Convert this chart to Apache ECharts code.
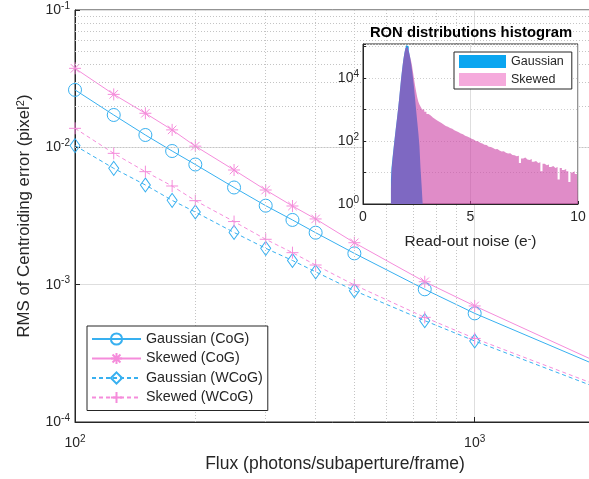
<!DOCTYPE html>
<html>
<head>
<meta charset="utf-8">
<script src="https://cdn.jsdelivr.net/npm/echarts@6/dist/echarts.min.js"></script>
<style>html,body{margin:0;padding:0;background:#fff}#c{width:589px;height:479px}</style>
</head>
<body>
<div id="c"></div>
<script>
// ---- main chart data ----
const flux = [100, 125, 150, 175, 200, 250, 300, 350, 400, 500, 750, 1000, 2000];
const markedPoints = 12; // points that carry a marker (the last one is line only)
const gaussCoG  = [0.0262, 0.0172, 0.0123, 0.0094, 0.0075, 0.0051, 0.00376, 0.00296, 0.00239, 0.00169, 0.000925, 0.000618, 0.000262];
const skewCoG   = [0.0376, 0.0243, 0.0177, 0.0134, 0.0102, 0.00684, 0.00489, 0.00374, 0.00301, 0.00202, 0.00105, 0.0007, 0.000278];
const gaussWCoG = [0.0103, 0.00703, 0.00532, 0.00411, 0.00338, 0.0024, 0.00184, 0.0015, 0.00124, 0.000904, 0.000547, 0.000389, 0.00018];
const skewWCoG  = [0.01375, 0.00904, 0.00665, 0.00523, 0.00409, 0.00288, 0.00214, 0.00171, 0.00139, 0.000995, 0.000578, 0.000406, 0.000188];
const seriesNames = ['Gaussian (CoG)', 'Skewed (CoG)', 'Gaussian (WCoG)', 'Skewed (WCoG)'];

// ---- inset histogram data: [read-out noise (e-), count] ----
const gaussHist = [[1.30,6],[1.35,14],[1.40,30],[1.45,62],[1.50,125],[1.55,250],[1.60,480],[1.65,950],[1.70,2000],[1.75,4500],[1.80,10000],[1.85,20000],[1.90,38000],[1.95,62000],[2.00,90000],[2.05,112000],[2.10,98000],[2.15,76000],[2.20,52000],[2.25,33000],[2.30,19000],[2.35,10000],[2.40,4800],[2.45,2100],[2.50,900],[2.55,400],[2.60,180],[2.65,70],[2.70,14],[2.75,4],[2.80,1]];
const skewHist = [[1.30,3],[1.35,11],[1.40,27],[1.45,58],[1.50,120],[1.55,240],[1.60,470],[1.65,940],[1.70,1980],[1.75,4450],[1.80,9900],[1.85,19800],[1.90,37500],[1.95,61000],[2.00,88000],[2.05,100000],[2.10,92000],[2.15,72000],[2.20,52000],[2.25,38000],[2.30,26000],[2.35,15500],[2.40,9200],[2.45,5600],[2.50,3600],[2.55,2400],[2.60,1750],[2.65,1450],[2.70,1250],
[2.8,1000],[2.9,850],[3.0,720],[3.1,640],[3.2,560],[3.3,500],[3.4,450],[3.5,410],[3.6,370],[3.7,335],[3.8,300],[3.9,285],[4.0,260],[4.1,245],[4.2,220],[4.3,205],[4.4,190],[4.5,172],[4.6,165],[4.7,148],[4.8,140],[4.9,128],[5.0,118],[5.1,112],[5.2,100],[5.3,98],[5.4,88],[5.5,84],[5.6,76],[5.7,74],[5.8,66],[5.9,64],[6.0,60],[6.1,55],[6.2,56],[6.3,50],[6.4,46],[6.5,47],[6.6,42],[6.7,40],[6.8,41],[6.9,36],[7.0,35],[7.1,33],[7.2,34],[7.3,20],[7.4,28],[7.5,30],[7.6,26],[7.7,25],[7.8,27],[7.9,22],[8.0,23],[8.1,20],[8.2,21],[8.3,11],[8.4,19],[8.5,17],[8.6,18],[8.7,15],[8.8,16],[8.9,14],[9.0,15],[9.1,6],[9.2,14],[9.3,12],[9.4,13],[9.5,11],[9.6,5],[9.7,10],[9.8,11],[9.9,9],[10.0,10]];
const histNames = ['Gaussian', 'Skewed'];

// ---- styling ----
const FONT = '"Liberation Sans", Arial, Helvetica, sans-serif';
const AX = '#262626';
const BLUE = '#38b0f0';
const PINK = '#f58cdb';
const ASTER = 'path://M0,-10L0,10M-10,0L10,0M-7.07,-7.07L7.07,7.07M-7.07,7.07L7.07,-7.07';
const PLUS = 'path://M0,-10L0,10M-10,0L10,0';

function powLabel(v, onlyEven) {
  const e = Math.round(Math.log10(v));
  if (Math.abs(Math.pow(10, e) - v) > 1e-9 * Math.abs(v)) return '';
  if (onlyEven && e % 2 !== 0) return '';
  return '10{sup|' + e + '}';
}
const supRich = { sup: { fontSize: 10, padding: [0, 0, 8, 0], fontFamily: FONT, color: AX } };

// minor grid positions (2..9 within decades)
function minorVals(e0, e1, maxV) {
  const out = [];
  for (let e = e0; e <= e1; e++) for (let k = 2; k <= 9; k++) {
    const v = k * Math.pow(10, e);
    if (maxV === undefined || v < maxV) out.push(v);
  }
  return out;
}
const minorLine = { color: '#c4c4c4', width: 1, type: [1, 2] };

function lineSeries(name, arr, color, symbol, size, dashed) {
  return {
    type: 'line', name, xAxisIndex: 0, yAxisIndex: 0, z: 3,
    data: flux.map((f, i) => ({ value: [f, arr[i]], symbol: i < markedPoints ? symbol : 'none' })),
    symbol, symbolSize: size, showAllSymbol: true,
    lineStyle: { color, width: 1, type: dashed ? [4, 3] : 'solid' },
    itemStyle: { color: 'transparent', borderColor: color, borderWidth: 1 }
  };
}

const option = {
  animation: false,
  backgroundColor: '#fff',
  textStyle: { fontFamily: FONT },
  grid: [
    { left: 75, top: 10, width: 520, height: 412, show: true, borderColor: AX, borderWidth: 1, backgroundColor: 'transparent', outerBoundsMode: 'none', containLabel: false },
    { left: 363, top: 44, width: 215, height: 160, show: true, borderColor: AX, borderWidth: 1, backgroundColor: '#fff', z: 10, outerBoundsMode: 'none', containLabel: false }
  ],
  xAxis: [
    { type: 'log', logBase: 10, gridIndex: 0, min: 100, max: 2000,
      name: 'Flux (photons/subaperture/frame)', nameLocation: 'middle', nameGap: 33,
      nameTextStyle: { fontSize: 17.5, color: AX, fontFamily: FONT },
      axisLine: { show: true, lineStyle: { color: AX } },
      axisTick: { show: true, inside: true, length: 5, lineStyle: { color: AX } },
      axisLabel: { formatter: v => powLabel(v), rich: supRich, fontSize: 14, color: AX, margin: 12, fontFamily: FONT },
      splitLine: { show: true, lineStyle: { color: '#dedede' } } },
    { type: 'value', gridIndex: 1, min: 0, max: 10, interval: 5, z: 11,
      name: 'Read-out noise (e{sup|-})', nameLocation: 'middle', nameGap: 29,
      nameTextStyle: { fontSize: 15.5, color: AX, fontFamily: FONT, rich: { sup: { fontSize: 11, padding: [0, 0, 7, 0], color: AX } } },
      axisLine: { show: true, lineStyle: { color: AX } },
      axisTick: { show: true, inside: true, length: 3, lineStyle: { color: AX } },
      axisLabel: { fontSize: 14, color: AX, margin: 6, fontFamily: FONT },
      splitLine: { show: true, lineStyle: { color: '#dedede' } } }
  ],
  yAxis: [
    { type: 'log', logBase: 10, gridIndex: 0, min: 1e-4, max: 1e-1,
      name: 'RMS of Centroiding error (pixel{sup|2})', nameLocation: 'middle', nameGap: 41,
      nameTextStyle: { fontSize: 16.8, color: AX, fontFamily: FONT, rich: { sup: { fontSize: 11, padding: [0, 0, 8, 0], color: AX } } },
      axisLine: { show: true, lineStyle: { color: AX } },
      axisTick: { show: true, inside: true, length: 5, lineStyle: { color: AX } },
      axisLabel: { formatter: v => powLabel(v), rich: supRich, fontSize: 14, color: AX, margin: 5, fontFamily: FONT },
      splitLine: { show: true, lineStyle: { color: '#dedede' } } },
    { type: 'log', logBase: 10, gridIndex: 1, min: 1, max: 120000, z: 11,
      axisLine: { show: true, lineStyle: { color: AX } },
      axisTick: { show: true, inside: true, length: 3, lineStyle: { color: AX } },
      axisLabel: { formatter: v => powLabel(v, true), rich: supRich, fontSize: 14, color: AX, margin: 4, fontFamily: FONT },
      splitLine: { show: true, lineStyle: { color: '#cfcfcf', type: [1, 2] } } }
  ],
  legend: [
    { data: seriesNames, orient: 'vertical', left: 87, top: 326, itemWidth: 49, itemHeight: 14, itemGap: 5.5,
      padding: [6, 5, 6, 4], borderColor: AX, borderWidth: 1, backgroundColor: '#fff', borderRadius: 0,
      textStyle: { fontSize: 14.3, color: AX, fontFamily: FONT }, z: 20 },
    { data: [{ name: 'Gaussian', itemStyle: { color: '#0aa5f0' } }, { name: 'Skewed', itemStyle: { color: '#f5aadc' } }],
      orient: 'vertical', left: 454, top: 52, itemWidth: 47, itemHeight: 13, itemGap: 5, icon: 'rect',
      padding: [3, 8, 3, 5], borderColor: AX, borderWidth: 1, backgroundColor: '#fff', borderRadius: 0,
      textStyle: { fontSize: 12.5, color: AX, fontFamily: FONT }, z: 20 }
  ],
  graphic: [
    { type: 'text', x: 471, y: 33, z: 30,
      style: { text: 'RON distributions histogram', textAlign: 'center', textVerticalAlign: 'middle',
               font: 'bold 14.8px ' + FONT, fill: '#000' } }
  ],
  series: [
    { type: 'line', name: '_mainGrid', xAxisIndex: 0, yAxisIndex: 0, data: [], z: 2, silent: true,
      markLine: { silent: true, symbol: ['none', 'none'], label: { show: false }, lineStyle: minorLine,
        data: [200, 300, 400, 500, 600, 700, 800, 900].map(v => ({ xAxis: v }))
          .concat(minorVals(-4, -2).map(v => ({ yAxis: v }))) } },
    lineSeries(seriesNames[0], gaussCoG, BLUE, 'circle', 13, false),
    lineSeries(seriesNames[1], skewCoG, PINK, ASTER, 12, false),
    lineSeries(seriesNames[2], gaussWCoG, BLUE, 'diamond', [10, 14], true),
    lineSeries(seriesNames[3], skewWCoG, PINK, PLUS, 12, true),
    { type: 'line', name: '_insetGrid', xAxisIndex: 1, yAxisIndex: 1, data: [], z: 11, silent: true,
      markLine: { silent: true, symbol: ['none', 'none'], label: { show: false },
        lineStyle: { color: '#d4d4d4', width: 1, type: [1, 2] },
        data: [2.5, 7.5].map(v => ({ xAxis: v })).concat(minorVals(0, 4, 120000).map(v => ({ yAxis: v }))) } },
    { type: 'line', name: histNames[0], xAxisIndex: 1, yAxisIndex: 1, z: 12, step: 'middle', symbol: 'none',
      data: gaussHist, lineStyle: { width: 0, opacity: 0 }, itemStyle: { color: '#0aa5f0' },
      areaStyle: { color: '#0aa5f0', opacity: 1, origin: 'start' } },
    { type: 'line', name: histNames[1], xAxisIndex: 1, yAxisIndex: 1, z: 13, step: 'middle', symbol: 'none',
      data: skewHist, lineStyle: { width: 0, opacity: 0 }, itemStyle: { color: '#f5aadc' },
      areaStyle: { color: 'rgba(203,63,163,0.6)', opacity: 1, origin: 'start' } }
  ]
};
const chart = echarts.init(document.getElementById('c'), null, { renderer: 'canvas' });
chart.setOption(option);
</script>
</body>
</html>
